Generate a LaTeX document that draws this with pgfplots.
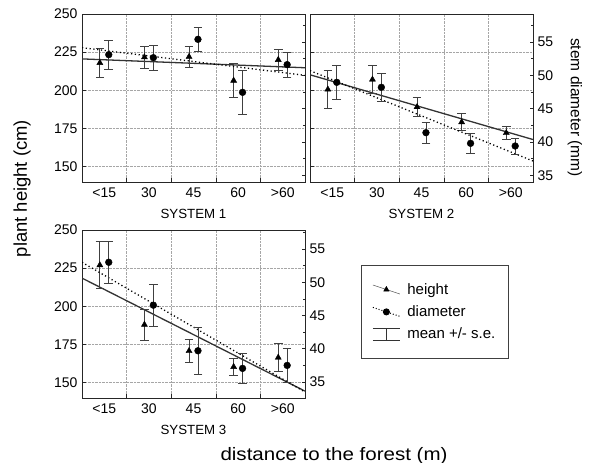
\documentclass[border=0pt]{standalone}
\usepackage{fontspec}
\setmainfont{Liberation Sans}
\usepackage{pgfplots}
\pgfplotsset{compat=1.18}

\pgfplotsset{
  base/.style={
    scale only axis, width=223pt, height=168pt,
    xmin=0.5, xmax=5.5,
    /pgf/number format/assume math mode=true,
    tick align=inside,
    major tick length=3.5pt, minor tick length=2.5pt,
    tick style={black!85, line width=0.6pt},
    axis line style={black!85, line width=0.8pt},
    ticklabel style={font=\fontsize{14}{16}\selectfont},
    error bars/error bar style={line width=0.8pt, black!75},
    error bars/error mark options={rotate=90, mark size=4.3pt, line width=0.8pt, black!75},
  },
  hax/.style={base, ymin=140, ymax=250, ytick={150,175,200,225,250}, ytick pos=left,
    xtick={1.5,2.5,3.5,4.5}, xticklabels={}, xtick pos=bottom,
    grid=major, grid style={densely dotted, black!35, line width=0.5pt},
    extra x ticks={1,2,3,4,5}, extra x tick labels={<15,30,45,60,>60},
    extra x tick style={grid=none, major tick length=0pt},
    xticklabel style={yshift=-2pt},
    yticklabel style={xshift=-1pt},
    xlabel style={font=\fontsize{13.3}{15}\selectfont, at={(axis description cs:0.5,0)},
      anchor=center, yshift=-32pt}},
  dax/.style={base, hide x axis, axis y line*=right, ytick={35,40,45,50,55},
    minor ytick={37.5,42.5,47.5,52.5,57.5}, yticklabel style={xshift=1pt}},
  hfit/.style={no marks, black!80, line width=1.3pt},
  dfit/.style={no marks, black, line width=1.3pt, dash pattern=on 1.2pt off 2.6pt},
  hgt/.style={only marks, mark=triangle*, mark size=3.5pt, black, error bars/.cd, y dir=both, y explicit},
  dia/.style={only marks, mark=*, mark size=3.4pt, black, error bars/.cd, y dir=both, y explicit},
}

\begin{document}
\begin{tikzpicture}
\path[use as bounding box] (0pt,0pt) rectangle (589pt,463pt);

% ---------- SYSTEM 1 ----------
\begin{axis}[hax, at={(82pt,281pt)}, anchor=south west, xlabel={SYSTEM 1}]
  \addplot[hfit] coordinates {(0.5,220.6) (5.5,214.8)};
  \addplot[hgt] coordinates {
    (0.9,218.0) +- (0,9.5)
    (1.9,221.7) +- (0,7.0)
    (2.9,222.0) +- (0,7.0)
    (3.9,206.4) +- (0,11.0)
    (4.9,220.0) +- (0,7.0)
  };
\end{axis}
\begin{axis}[dax, at={(82pt,281pt)}, anchor=south west, ymin=34, ymax=59.2, yticklabels={}]
  \addplot[dfit] coordinates {(0.5,54.15) (5.5,50.0)};
  \addplot[dia] coordinates {
    (1.1,53.1) +- (0,2.2)
    (2.1,52.65) +- (0,1.9)
    (3.1,55.4) +- (0,1.8)
    (4.1,47.45) +- (0,3.35)
    (5.1,51.6) +- (0,1.85)
  };
\end{axis}

% ---------- SYSTEM 2 ----------
\begin{axis}[hax, at={(310pt,281pt)}, anchor=south west, xlabel={SYSTEM 2}, yticklabels={}]
  \addplot[hfit] coordinates {(0.5,210.2) (5.5,167.8)};
  \addplot[hgt] coordinates {
    (0.9,200.6) +- (0,12.2)
    (1.9,207.1) +- (0,9.0)
    (2.9,189.1) +- (0,6.1)
    (3.9,179.2) +- (0,5.7)
    (4.9,172.1) +- (0,4.1)
  };
\end{axis}
\begin{axis}[dax, at={(310pt,281pt)}, anchor=south west, ymin=34, ymax=59.2]
  \addplot[dfit] coordinates {(0.5,50.7) (5.5,37.15)};
  \addplot[dia] coordinates {
    (1.1,48.95) +- (0,2.6)
    (2.1,48.2) +- (0,2.1)
    (3.1,41.4) +- (0,1.6)
    (4.1,39.8) +- (0,1.5)
    (5.1,39.4) +- (0,1.2)
  };
\end{axis}

% ---------- SYSTEM 3 ----------
\begin{axis}[hax, at={(82pt,65pt)}, anchor=south west, xlabel={SYSTEM 3},
    legend style={at={(1.251,0.792)}, anchor=north west, draw=black!75, line width=0.8pt,
      inner xsep=11pt, inner ysep=16pt, font=\fontsize{15}{17}\selectfont,
      row sep=6pt, column sep=5pt, cells={anchor=west}}]
  \addplot[forget plot, hfit] coordinates {(0.5,218.5) (5.5,144.5)};
  \addplot[forget plot, hgt] coordinates {
    (0.9,227.0) +- (0,15.3)
    (1.9,188.0) +- (0,10.2)
    (2.9,170.8) +- (0,7.8)
    (3.9,160.4) +- (0,5.8)
    (4.9,166.5) +- (0,9.0)
  };
  \addlegendimage{legend image code/.code={
    \draw[black!70, line width=0.5pt, mark=triangle*, mark size=3pt, mark repeat=2, mark phase=2,
      mark options={black}] plot coordinates {(0pt,4.5pt) (13.5pt,0pt) (27pt,-4.5pt)};}}
  \addlegendentry{height}
  \addlegendimage{legend image code/.code={
    \draw[black, line width=1pt, dash pattern=on 1pt off 2pt, mark=*, mark size=3pt, mark repeat=2,
      mark phase=2, mark options={solid}] plot coordinates {(0pt,4.5pt) (13.5pt,0pt) (27pt,-4.5pt)};}}
  \addlegendentry{diameter}
  \addlegendimage{legend image code/.code={
    \draw[black!80, line width=0.8pt] (0pt,6pt) -- (27pt,6pt) (13.5pt,6pt) -- (13.5pt,-6pt)
      (0pt,-6pt) -- (27pt,-6pt);}}
  \addlegendentry{mean +/- s.e.}
\end{axis}
\begin{axis}[dax, at={(82pt,65pt)}, anchor=south west, ymin=32.6, ymax=57.85]
  \addplot[dfit] coordinates {(0.5,53.0) (5.5,33.5)};
  \addplot[dia] coordinates {
    (1.1,53.0) +- (0,3.2)
    (2.1,46.55) +- (0,3.15)
    (3.1,39.7) +- (0,3.5)
    (4.1,37.05) +- (0,2.25)
    (5.1,37.5) +- (0,2.6)
  };
\end{axis}

% ---------- axis titles ----------
\node[rotate=90, font=\fontsize{18.4}{20}\selectfont] at (22pt,274.5pt) {plant height (cm)};
\node[rotate=-90, font=\fontsize{15.5}{17}\selectfont] at (575pt,355.5pt) {stem diameter (mm)};
\node[font=\fontsize{18}{20}\selectfont, xscale=1.14] at (334pt,7.5pt) {distance to the forest (m)};
\end{tikzpicture}
\end{document}
